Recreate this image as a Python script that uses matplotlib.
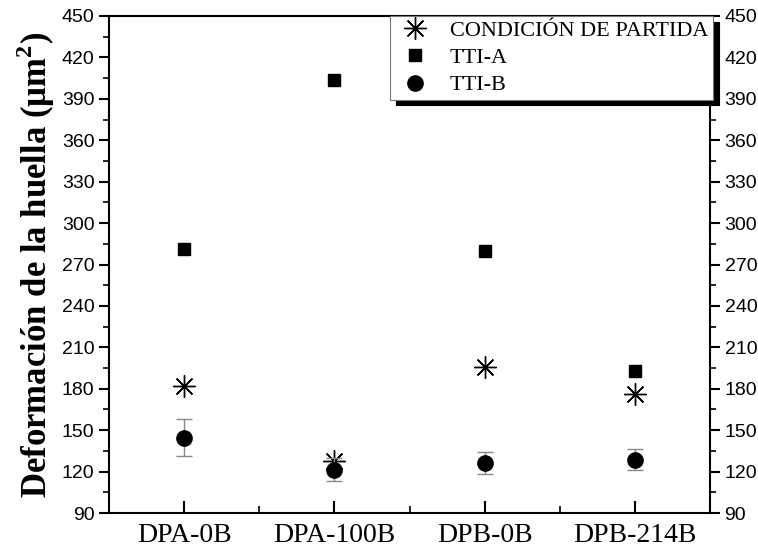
import matplotlib
matplotlib.use("Agg")
import matplotlib.pyplot as plt
from matplotlib.ticker import MultipleLocator, FixedLocator
from matplotlib.lines import Line2D

categories = ["DPA-0B", "DPA-100B", "DPB-0B", "DPB-214B"]
cond_partida = [182, 128, 196, 176]
tti_a = [281, 404, 280, 193]
tti_b = [144.5, 121.5, 126.5, 128.5]
tti_b_err = [13.5, 8, 8, 7.5]
y_ticks = [90, 120, 150, 180, 210, 240, 270, 300, 330, 360, 390, 420, 450]

fig = plt.figure(figsize=(7.58, 5.5), dpi=100)
ax = fig.add_axes([109/758, 1-513/550, (710-109)/758, (513-16)/550])

x = list(range(1, len(categories) + 1))
serif = "Liberation Serif"
sans = "Liberation Sans"

h1, = ax.plot(x, cond_partida, linestyle="none", marker=(8, 2, 0), markersize=16,
              markeredgewidth=1.0, color="black", label="CONDICIÓN DE PARTIDA")
h2, = ax.plot(x, tti_a, linestyle="none", marker="s", markersize=9, color="black", label="TTI-A")
ax.errorbar(x, tti_b, yerr=tti_b_err, linestyle="none", marker="o", markersize=11,
            color="black", ecolor="#888888", elinewidth=1.0, capsize=6, capthick=1.0)
h3 = Line2D([], [], linestyle="none", marker="o", markersize=11, color="black", label="TTI-B")

ax.set_xlim(0.5, 4.5)
ax.set_ylim(90, 450)
ax.set_xticks(x)
ax.set_xticklabels(categories, fontfamily=serif, fontsize=20)
ax.xaxis.set_minor_locator(FixedLocator([1.5, 2.5, 3.5]))
ax.set_yticks(y_ticks)
ax.yaxis.set_minor_locator(MultipleLocator(15))

for s in ax.spines.values():
    s.set_linewidth(1.5)

ax.tick_params(axis="x", which="major", direction="in", length=9, width=1.5, top=False, pad=7)
ax.tick_params(axis="x", which="minor", direction="in", length=5, width=1.2, top=False)
ax.tick_params(axis="y", which="major", direction="out", length=7, width=1.5,
               left=True, right=True, labelleft=True, labelright=True, labelsize=14)
ax.tick_params(axis="y", which="minor", direction="out", length=4.5, width=1.2,
               left=True, right=True)
for lab in ax.get_yticklabels():
    lab.set_fontfamily(sans)

ax.set_ylabel("Deformación de la huella (μm$^\\mathregular{2}$)", fontfamily=serif,
              fontsize=25, fontweight="bold")
ax.yaxis.set_label_coords(-0.087, 0.5)

leg = ax.legend(handles=[h1, h2, h3], loc="upper right", bbox_to_anchor=(713/758, 1-16/550),
                bbox_transform=fig.transFigure, borderaxespad=0,
                prop={"family": serif, "size": 16}, frameon=True, fancybox=False,
                framealpha=1, edgecolor="#777777", handletextpad=0.7,
                labelspacing=0.3, borderpad=0.2, handlelength=1.8,
                shadow={"color": "black", "ox": 4, "oy": -4, "alpha": 1})
leg.get_frame().set_linewidth(0.8)

fig.savefig("out.png", dpi=100)
